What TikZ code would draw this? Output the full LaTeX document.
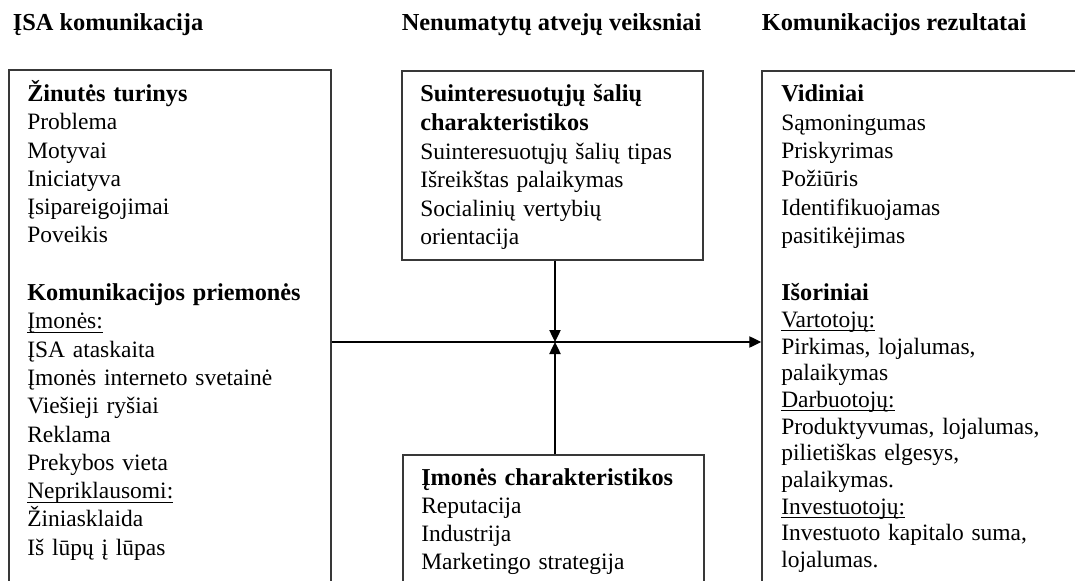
\documentclass[tikz,border=0pt]{standalone}
\usepackage{fontspec}
\setmainfont{Liberation Serif}
\usetikzlibrary{arrows.meta,fit}
\newsavebox\myulbox
\newcommand\myul[1]{\leavevmode\sbox\myulbox{#1}\rlap{\rule[-3pt]{\wd\myulbox}{0.75pt}}\usebox\myulbox}
\newcommand\hb[1]{{\bfseries\fontsize{18.2pt}{\baselineskip}\selectfont #1}}
\begin{document}
\begin{tikzpicture}[x=0.75pt,y=-0.75pt,
  frame/.style={draw=black!78, line width=1.1pt, inner sep=0pt},
  conn/.style={draw=black, line width=0.95pt, -{Triangle[length=9pt,width=8.5pt]}},
  ttl/.style={anchor=base west, inner sep=0pt, font=\fontsize{18.3pt}{21.3pt}\selectfont\bfseries},
  txt/.style={anchor=base west, inner sep=0pt, align=left, text width=230pt,
    font=\fontsize{17.6pt}{#1}\selectfont,
    execute at begin node={\lineskiplimit=-100pt\relax\lineskip=0pt\relax}},
  txt/.default=21.2pt
]
\useasboundingbox (0,0) rectangle (1075,581);
\clip (0,0) rectangle (1075,581);

% titles
\node[ttl] (t1) at (12.5,31) {ĮSA komunikacija};
\node[ttl] (t2) at (401.5,31) {Nenumatytų atvejų veiksniai};
\node[ttl] (t3) at (761.5,31) {Komunikacijos rezultatai};

% boxes
\node[frame, fit={(9,70) (331,640)}] (lbox) {};
\node[frame, fit={(402,71) (703,260)}] (tbox) {};
\node[frame, fit={(403,455) (704,640)}] (bbox) {};
\node[frame, fit={(762,71) (1110,640)}] (rbox) {};

% left box text
\node[txt] (lt) at (27,101.5) {\hb{Žinutės turinys}\\Problema\\Motyvai\\Iniciatyva\\Įsipareigojimai\\Poveikis};
\node[txt] (lb) at (27,300.7) {\hb{Komunikacijos priemonės}\\\myul{Įmonės:}\\ĮSA ataskaita\\Įmonės interneto svetainė\\Viešieji ryšiai\\Reklama\\Prekybos vieta\\\myul{Nepriklausomi:}\\Žiniasklaida\\Iš lūpų į lūpas};

% middle boxes text
\node[txt=21.4pt] (tt) at (420,102) {\hb{Suinteresuotųjų šalių}\\\hb{charakteristikos}\\Suinteresuotųjų šalių tipas\\Išreikštas palaikymas\\Socialinių vertybių\\orientacija};
\node[txt] (bt) at (421,485) {\hb{Įmonės charakteristikos}\\Reputacija\\Industrija\\Marketingo strategija};

% right box text
\node[txt=21.3pt] (rt) at (781,101.7) {\hb{Vidiniai}\\Sąmoningumas\\Priskyrimas\\Požiūris\\Identifikuojamas\\pasitikėjimas};
\node[txt=20pt] (rb) at (781,300.7) {\hb{Išoriniai}\\\myul{Vartotojų:}\\Pirkimas, lojalumas,\\palaikymas\\\myul{Darbuotojų:}\\Produktyvumas, lojalumas,\\pilietiškas elgesys,\\palaikymas.\\\myul{Investuotojų:}\\Investuoto kapitalo suma,\\lojalumas.};

% connectors
\coordinate (hub) at (555,342);
\draw[conn] (lbox.east |- hub) -- (rbox.west |- hub);
\draw[conn] (tbox.south -| hub) -- (hub);
\draw[conn] (bbox.north -| hub) -- (hub);
\end{tikzpicture}
\end{document}
